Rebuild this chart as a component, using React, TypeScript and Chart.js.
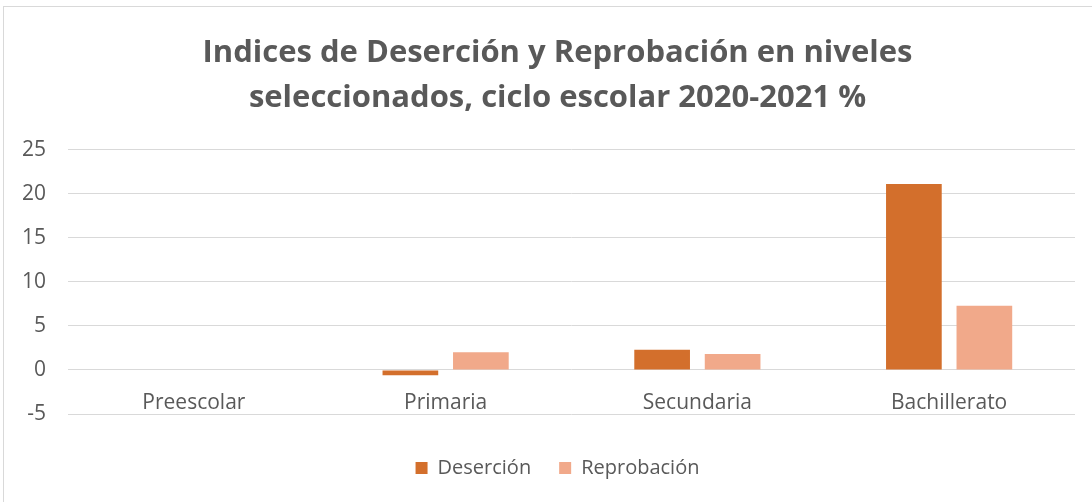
import React, { useEffect, useRef } from "react";
import { Chart, registerables } from "chart.js";

Chart.register(...registerables);

const categories = ["Preescolar", "Primaria", "Secundaria", "Bachillerato"];
const desercion = [0, -0.6, 2.3, 21.1];
const reprobacion = [0, 2.0, 1.8, 7.3];
const titleLines = [
  "Indices de Deserción y Reprobación en niveles",
  "seleccionados, ciclo escolar 2020-2021 %",
];

const FONT = "'Open Sans', sans-serif";
const TEXT = "#595959";
const GRID = "#D9D9D9";

const borderPlugin = {
  id: "outerBorder",
  beforeDraw(chart: any) {
    const ctx = chart.ctx;
    ctx.save();
    ctx.fillStyle = "#ffffff";
    ctx.fillRect(0, 0, chart.width, chart.height);
    ctx.strokeStyle = GRID;
    ctx.lineWidth = 1;
    ctx.strokeRect(3.5, 6.5, chart.width + 10, chart.height + 10);
    ctx.restore();
  },
};

// widen the y-axis label clip area to the canvas edge so tick labels are not cut
const yLabelAreaPlugin = {
  id: "yLabelArea",
  afterLayout(chart: any) {
    const y = chart.scales.y;
    if (y) y.left = 0;
  },
};

export default function App() {
  const ref = useRef<HTMLCanvasElement | null>(null);
  useEffect(() => {
    document.body.style.margin = "0";
    const chart = new Chart(ref.current as HTMLCanvasElement, {
      type: "bar",
      data: {
        labels: categories,
        datasets: [
          { label: "Deserción", data: desercion, backgroundColor: "#D36F2C", xAxisID: "x" },
          { label: "Reprobación", data: reprobacion, backgroundColor: "#F1A98A", xAxisID: "x" },
        ],
      },
      options: {
        animation: false,
        responsive: false,
        maintainAspectRatio: false,
        datasets: { bar: { barPercentage: 0.79, categoryPercentage: 0.56 } },
        layout: { padding: { top: 0, left: 40, right: 17, bottom: 14 } },
        plugins: {
          title: {
            display: true,
            text: titleLines,
            color: TEXT,
            font: { family: FONT, size: 31, weight: "bold", lineHeight: 1.45 },
            padding: { top: 31, bottom: 28.8 },
          },
          legend: {
            display: true,
            position: "bottom",
            labels: {
              color: TEXT,
              font: { family: FONT, size: 20 },
              boxWidth: 12,
              boxHeight: 12,
              padding: 28,
            },
          },
          tooltip: { enabled: false },
        },
        scales: {
          x: {
            type: "category",
            position: { y: 0 } as any,
            grid: { display: false, drawTicks: false },
            border: { display: false },
            ticks: { color: TEXT, font: { family: FONT, size: 21 }, padding: 20, maxRotation: 0 },
          },
          xs: {
            type: "category",
            position: "bottom",
            grid: { display: false, drawTicks: false },
            border: { display: false },
            ticks: { display: false },
            afterFit(s: any) {
              s.height = 16;
            },
          },
          y: {
            min: -5,
            max: 25,
            ticks: { stepSize: 5, color: TEXT, font: { family: FONT, size: 21 }, padding: 22 },
            grid: { color: GRID, lineWidth: 1, drawTicks: false },
            border: { display: false },
            afterFit(s: any) {
              s.width = 28;
            },
          },
        },
      },
      plugins: [borderPlugin, yLabelAreaPlugin],
    });
    return () => chart.destroy();
  }, []);
  return (
    <div style={{ position: "absolute", left: 0, top: 0, width: 1092, height: 502 }}>
      <canvas ref={ref} width={1092} height={502} style={{ width: 1092, height: 502 }} />
    </div>
  );
}
